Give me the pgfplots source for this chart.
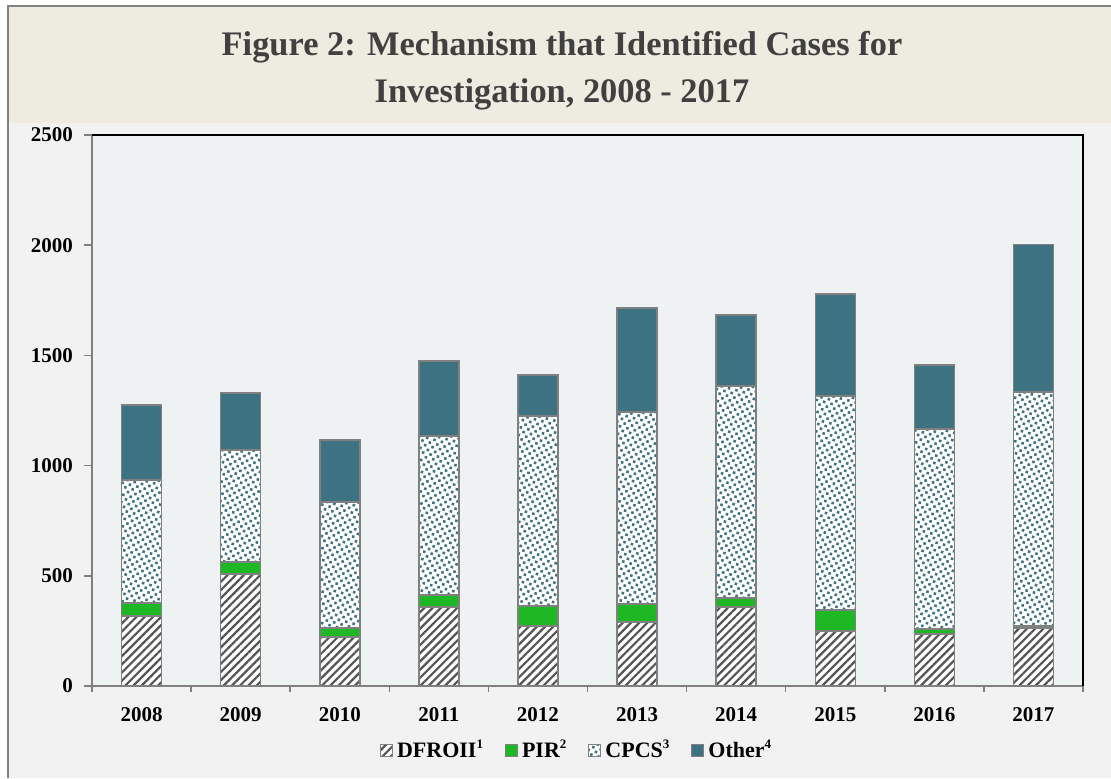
\documentclass[border=0pt]{standalone}
\usepackage{fontspec}
\setmainfont{Liberation Serif}
\usepackage{pgfplots}
\pgfplotsset{compat=1.18}
\usetikzlibrary{patterns.meta}
\definecolor{tealc}{HTML}{3C7282}
\definecolor{pirc}{HTML}{1DB824}
\definecolor{band}{HTML}{EEEBE0}
\definecolor{outerbg}{HTML}{F2F2F2}
\definecolor{plotbg}{HTML}{EEF2F3}
\definecolor{titlec}{HTML}{404040}
\definecolor{axgray}{HTML}{808080}
\definecolor{hatchc}{HTML}{555555}
\newcommand{\supnum}[1]{\raisebox{0.42em}{\fontsize{6.5}{7}\selectfont #1}}
\begin{document}
\begin{tikzpicture}
\useasboundingbox (-46pt,-46pt) rectangle (509.5pt,343pt);
\fill[white] (-46pt,-46pt) rectangle (509.5pt,343pt);
\fill[outerbg] (-42pt,-46pt) rectangle (509.5pt,339.5pt);
\fill[band] (-42pt,281.5pt) rectangle (509.5pt,339.5pt);
\draw[axgray, line width=1.25pt] (-42pt,-46pt) -- (-42pt,340pt) -- (509.5pt,340pt);
\node[font=\fontsize{17.2}{23.5}\selectfont\bfseries, text=titlec, align=center] at (235pt,307.8pt) {Figure 2: Mechanism that Identified Cases for\\Investigation, 2008 - 2017};
\begin{axis}[
  at={(0pt,0pt)}, anchor=south west,
  scale only axis, width=495.5pt, height=275.5pt,
  ybar stacked, bar width=20pt,
  ymin=0, ymax=2500, xmin=-0.5, xmax=9.5,
  xtick={0,...,9},
  xticklabels={2008,2009,2010,2011,2012,2013,2014,2015,2016,2017},
  minor xtick={-0.5,0.5,...,9.5},
  ytick={0,500,...,2500},
  axis x line*=bottom, axis y line*=left,
  axis line style={draw=axgray, line width=0.75pt},
  tick style={draw=axgray, line width=0.75pt},
  major x tick style={draw=none},
  tick align=outside, major tick length=4pt, minor tick length=3pt,
  axis background/.style={fill=plotbg},
  /pgf/number format/assume math mode=true,
  /pgf/number format/1000 sep={},
  ticklabel style={font=\bfseries\fontsize{10.5}{12}\selectfont, text=black},
  xticklabel style={yshift=-3pt},
  yticklabel style={xshift=-2pt},
  legend style={at={(0.490,-0.117)}, anchor=center, draw=none, fill=none,
    legend columns=4, font=\bfseries\fontsize{11}{12}\selectfont,
    /tikz/every even column/.append style={column sep=9pt}},
  legend image code/.code={\draw[#1, line width=0.5pt] (0pt,-3pt) rectangle (6pt,3pt);},
  after end axis/.code={\draw[black, line width=1.25pt] (rel axis cs:0,1) -- (rel axis cs:1,1) -- (rel axis cs:1,0);},
]
\addplot[fill=white, draw=axgray, line width=0.75pt,
  postaction={pattern={Lines[angle=45,distance=2.9pt,line width=1.1pt]}, pattern color=hatchc}]
  coordinates {(0,318) (1,508) (2,222) (3,358) (4,272) (5,290) (6,358) (7,250) (8,236) (9,263)};
\addplot[fill=pirc, draw=axgray, line width=0.75pt]
  coordinates {(0,59) (1,55) (2,41) (3,55) (4,91) (5,82) (6,41) (7,95) (8,23) (9,9)};
\addplot[fill=white, draw=axgray, line width=0.75pt,
  postaction={pattern={Dots[angle=30,distance=2.7pt,radius=0.9pt]}, pattern color=tealc}]
  coordinates {(0,558) (1,508) (2,572) (3,721) (4,862) (5,871) (6,962) (7,971) (8,907) (9,1062)};
\addplot[fill=tealc, draw=axgray, line width=0.75pt]
  coordinates {(0,340) (1,258) (2,281) (3,341) (4,186) (5,472) (6,322) (7,462) (8,290) (9,670)};
\legend{DFROII\supnum{1}, PIR\supnum{2}, CPCS\supnum{3}, Other\supnum{4}}
\end{axis}
\end{tikzpicture}
\end{document}
